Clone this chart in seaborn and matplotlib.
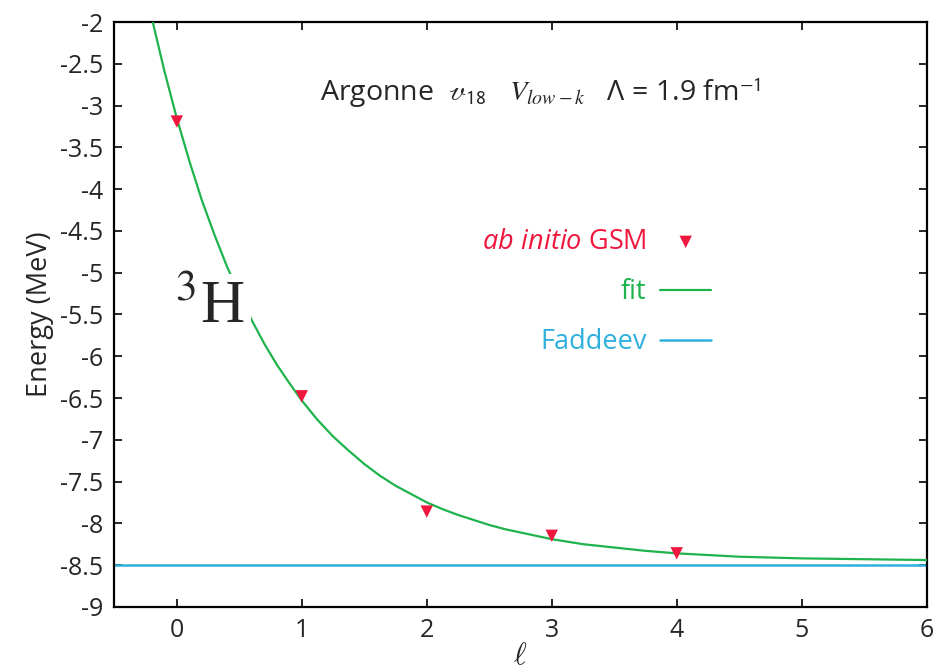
import matplotlib
matplotlib.use("Agg")
import matplotlib.pyplot as plt
import seaborn as sns

# ab initio GSM points
ell = [0, 1, 2, 3, 4]
energy_gsm = [-3.19, -6.48, -7.86, -8.15, -8.36]

# fitted curve
fit_ell = [-0.2, -0.1, 0.0, 0.1, 0.2, 0.3, 0.4, 0.5, 0.6, 0.7, 0.8, 0.9, 1.0,
           1.125, 1.25, 1.375, 1.5, 1.625, 1.75, 1.875, 2.0, 2.125, 2.25, 2.375, 2.5,
           2.625, 2.75, 2.875, 3.0, 3.25, 3.5, 3.75, 4.0, 4.5, 5.0, 5.5, 6.0]
fit_energy = [-1.95, -2.58, -3.15, -3.66, -4.13, -4.54, -4.92, -5.26, -5.57, -5.85, -6.10, -6.32, -6.53,
              -6.76, -6.96, -7.13, -7.29, -7.43, -7.55, -7.65, -7.75, -7.83, -7.90, -7.96, -8.02,
              -8.07, -8.11, -8.15, -8.19, -8.25, -8.29, -8.33, -8.36, -8.40, -8.42, -8.43, -8.44]

faddeev = -8.50

x_ticks = [0, 1, 2, 3, 4, 5, 6]
y_ticks = [-2, -2.5, -3, -3.5, -4, -4.5, -5, -5.5, -6, -6.5, -7, -7.5, -8, -8.5, -9]

red = '#f0173f'
green = '#1fb34d'
cyan = '#2eb0dc'

sns.set_style('ticks')
plt.rcParams['font.family'] = ['Open Sans', 'DejaVu Sans']
plt.rcParams['mathtext.fontset'] = 'custom'
plt.rcParams['mathtext.rm'] = 'Open Sans'
plt.rcParams['mathtext.it'] = 'Open Sans:italic'

fig, ax = plt.subplots(figsize=(9.37, 6.72), dpi=100)
fig.subplots_adjust(left=0.122, right=0.989, top=0.967, bottom=0.097)

sns.scatterplot(x=ell, y=energy_gsm, marker='v', s=80, color=red, edgecolor='none',
                ax=ax, label=r'$\it{ab\ initio}$ GSM', zorder=4)
sns.lineplot(x=fit_ell, y=fit_energy, color=green, linewidth=1.6, ax=ax, label='fit', zorder=3)
ax.axhline(faddeev, color=cyan, linewidth=1.8, label='Faddeev', zorder=2)

ax.set_xlim(-0.5, 6)
ax.set_ylim(-9, -2)
ax.set_xticks(x_ticks)
ax.set_yticks(y_ticks)
ax.set_yticklabels([f'{v:g}' for v in y_ticks])
ax.tick_params(direction='in', length=6, width=1.4, top=True, right=True,
               labeltop=False, labelright=False, labelsize=18, pad=8)
for s in ax.spines.values():
    s.set_linewidth(1.6)
    s.set_color('black')

ax.set_xlabel(r'$\ell$', fontsize=22, math_fontfamily='cm', labelpad=-1)
ax.set_ylabel('Energy (MeV)', fontsize=19.5, labelpad=4)

leg = ax.legend(loc='upper right', bbox_to_anchor=(0.735, 0.648), frameon=False,
                markerfirst=False, fontsize=19.5, handlelength=1.9, labelspacing=0.82,
                handletextpad=0.5, borderaxespad=0, borderpad=0)
for t, c in zip(leg.get_texts(), [red, green, cyan]):
    t.set_color(c)

ax.text(0.524, 0.88, r'Argonne  $\mathscr{v}_{\mathsf{18}}$   $V_{low-k}$   Λ = 1.9 fm$^{\mathsf{-1}}$',
        transform=ax.transAxes, ha='center', va='center', fontsize=20.5, math_fontfamily='stix')

ax.text(0.117, 0.51, r'$^{3}$H', transform=ax.transAxes, ha='center', va='center',
        fontsize=44, family='Liberation Serif', math_fontfamily='stix',
        bbox=dict(facecolor='white', edgecolor='none', pad=5), zorder=5)

fig.savefig('out.png', dpi=100)
